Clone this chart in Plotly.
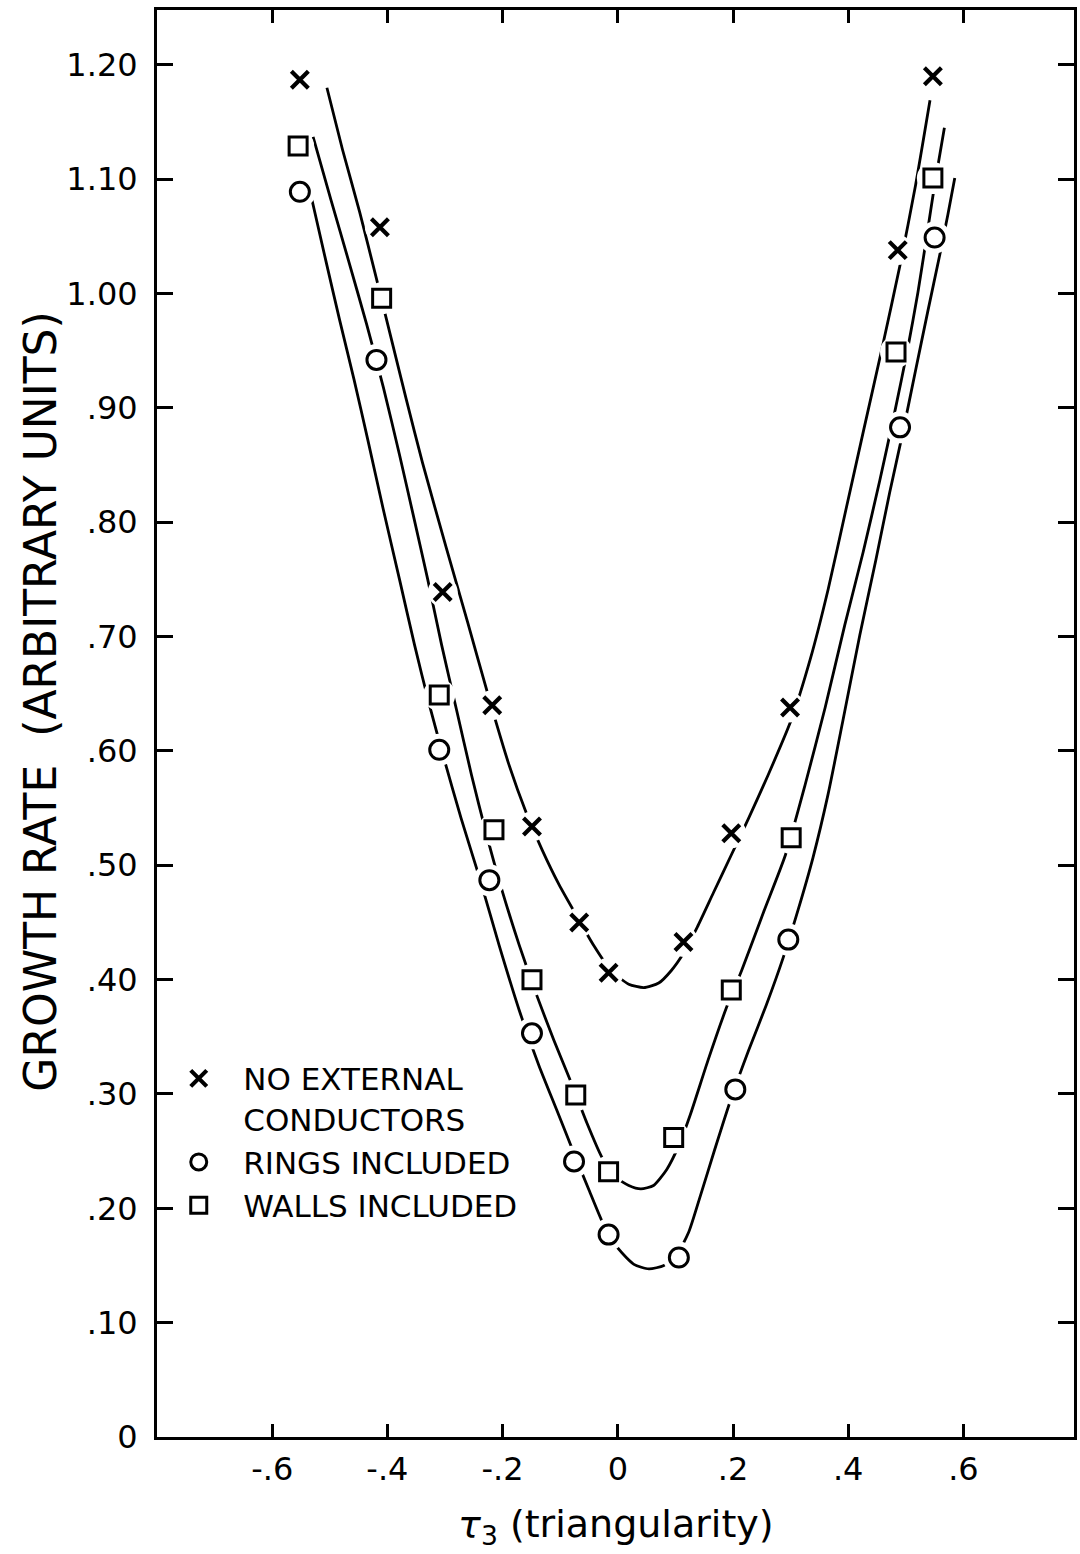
import plotly.graph_objects as go

# ---------------- data ----------------
# measured points
x_none = [-0.552, -0.413, -0.304, -0.218, -0.149, -0.067, -0.016, 0.114, 0.197, 0.299, 0.486, 0.547]
y_none = [1.187, 1.058, 0.739, 0.640, 0.534, 0.450, 0.406, 0.433, 0.528, 0.638, 1.038, 1.190]

x_rings = [-0.552, -0.419, -0.310, -0.223, -0.149, -0.076, -0.016, 0.106, 0.204, 0.296, 0.490, 0.550]
y_rings = [1.089, 0.942, 0.601, 0.487, 0.353, 0.241, 0.177, 0.157, 0.304, 0.435, 0.883, 1.049]

x_walls = [-0.555, -0.410, -0.310, -0.215, -0.149, -0.073, -0.016, 0.097, 0.197, 0.301, 0.483, 0.547]
y_walls = [1.129, 0.996, 0.649, 0.531, 0.400, 0.299, 0.232, 0.262, 0.391, 0.524, 0.949, 1.101]

# hand-drawn fitted curves
cx_none = [-0.505, -0.478, -0.448, -0.420, -0.393, -0.367, -0.339, -0.298, -0.261, -0.223, -0.189,
           -0.159, -0.131, -0.102, -0.073, -0.042, -0.012, 0.019, 0.045, 0.071, 0.093, 0.114,
           0.138, 0.166, 0.197, 0.227, 0.261, 0.301, 0.334, 0.365, 0.396, 0.427, 0.460, 0.490,
           0.517, 0.542]
cy_none = [1.180, 1.126, 1.071, 1.015, 0.960, 0.907, 0.852, 0.778, 0.713, 0.645, 0.588,
           0.546, 0.513, 0.483, 0.457, 0.430, 0.408, 0.396, 0.393, 0.397, 0.408, 0.423,
           0.446, 0.476, 0.509, 0.541, 0.579, 0.627, 0.680, 0.741, 0.811, 0.881, 0.955, 1.025,
           1.095, 1.169]

cx_walls = [-0.529, -0.498, -0.467, -0.436, -0.407, -0.379, -0.355, -0.330, -0.306, -0.280, -0.254,
            -0.228, -0.201, -0.171, -0.142, -0.111, -0.081, -0.054, -0.028, -0.003, 0.019, 0.040,
            0.062, 0.085, 0.106, 0.126, 0.157, 0.189, 0.215, 0.253, 0.291, 0.325, 0.360, 0.394,
            0.426, 0.455, 0.481, 0.503, 0.521, 0.536, 0.550, 0.567]
cy_walls = [1.137, 1.082, 1.028, 0.973, 0.918, 0.859, 0.806, 0.750, 0.693, 0.636, 0.579,
            0.527, 0.478, 0.430, 0.388, 0.347, 0.310, 0.275, 0.245, 0.227, 0.220, 0.217,
            0.220, 0.234, 0.255, 0.282, 0.330, 0.376, 0.408, 0.459, 0.509, 0.570, 0.638, 0.710,
            0.774, 0.837, 0.897, 0.951, 1.001, 1.049, 1.095, 1.145]

cx_rings = [-0.531, -0.507, -0.483, -0.458, -0.434, -0.407, -0.379, -0.353, -0.327, -0.301, -0.272,
            -0.240, -0.206, -0.171, -0.137, -0.106, -0.076, -0.050, -0.024, 0.002, 0.028, 0.054,
            0.080, 0.102, 0.123, 0.144, 0.168, 0.196, 0.227, 0.258, 0.287, 0.313, 0.339, 0.365,
            0.391, 0.420, 0.448, 0.472, 0.495, 0.517, 0.538, 0.559, 0.573, 0.585]
cy_rings = [1.082, 1.029, 0.977, 0.925, 0.872, 0.811, 0.750, 0.693, 0.640, 0.592, 0.541,
            0.489, 0.430, 0.373, 0.325, 0.286, 0.248, 0.216, 0.185, 0.164, 0.151, 0.147,
            0.150, 0.159, 0.179, 0.212, 0.251, 0.295, 0.338, 0.378, 0.419, 0.461, 0.507, 0.562,
            0.627, 0.701, 0.767, 0.826, 0.879, 0.933, 0.984, 1.034, 1.069, 1.101]

legend_names = ["NO EXTERNAL<br>CONDUCTORS", "RINGS INCLUDED", "WALLS INCLUDED"]

x_tickvals = [-0.6, -0.4, -0.2, 0, 0.2, 0.4, 0.6]
x_ticktext = ["-.6", "-.4", "-.2", "0", ".2", ".4", ".6"]
y_tickvals = [0, 0.1, 0.2, 0.3, 0.4, 0.5, 0.6, 0.7, 0.8, 0.9, 1.0, 1.1, 1.2]
y_ticktext = ["0", ".10", ".20", ".30", ".40", ".50", ".60", ".70", ".80", ".90", "1.00", "1.10", "1.20"]

# ---------------- figure ----------------
FONT = "DejaVu Sans"
INK = "black"
fig = go.Figure()

# curves
for cx, cy in [(cx_none, cy_none), (cx_walls, cy_walls), (cx_rings, cy_rings)]:
    fig.add_trace(go.Scatter(x=cx, y=cy, mode="lines",
                             line=dict(color=INK, width=2.8, shape="spline", smoothing=0.6),
                             showlegend=False, hoverinfo="skip"))

# white halos so the pen-drawn curves break around each symbol
for xs, ys, hs in [(x_none, y_none, 30), (x_rings, y_rings, 32), (x_walls, y_walls, 32)]:
    fig.add_trace(go.Scatter(x=xs, y=ys, mode="markers",
                             marker=dict(symbol="circle", size=hs, color="white", line=dict(width=0)),
                             showlegend=False, hoverinfo="skip"))

# symbols
styles = [
    (x_none, y_none, dict(symbol="x-thin-open", size=17, color=INK, line=dict(width=4.2, color=INK))),
    (x_rings, y_rings, dict(symbol="circle-open", size=19, color=INK, line=dict(width=3, color=INK))),
    (x_walls, y_walls, dict(symbol="square-open", size=18, color=INK, line=dict(width=3, color=INK))),
]
for (xs, ys, mk), name in zip(styles, legend_names):
    fig.add_trace(go.Scatter(x=xs, y=ys, mode="markers", marker=mk, name=name, showlegend=True))

axis_common = dict(showgrid=False, zeroline=False, showline=True, linecolor=INK, linewidth=3,
                   mirror="ticks", ticks="inside", tickcolor=INK, tickwidth=3,
                   tickfont=dict(family=FONT, size=32, color=INK))

fig.update_xaxes(range=[-0.8, 0.792], tickmode="array", tickvals=x_tickvals, ticktext=x_ticktext,
                 ticklen=13, ticklabelstandoff=2, **axis_common)
fig.update_yaxes(range=[0, 1.248], tickmode="array", tickvals=y_tickvals, ticktext=y_ticktext,
                 ticklen=16, ticklabelstandoff=10, **axis_common)

fig.add_annotation(text="GROWTH RATE  (ARBITRARY UNITS)", xref="paper", yref="paper",
                   x=-0.127, y=0.515, textangle=-90, showarrow=False,
                   xanchor="center", yanchor="middle",
                   font=dict(family=FONT, size=44, color=INK))
fig.add_annotation(text="<i>τ</i><sub>3</sub> (triangularity)", xref="paper", yref="paper",
                   x=0.5, y=-0.063, showarrow=False, xanchor="center", yanchor="middle",
                   font=dict(family=FONT, size=38, color=INK))

fig.update_layout(
    width=1080, height=1554,
    margin=dict(l=157, r=3, t=10, b=117),
    plot_bgcolor="white", paper_bgcolor="white",
    legend=dict(x=-0.003, y=0.27, xanchor="left", yanchor="top", bgcolor="rgba(0,0,0,0)",
                font=dict(family=FONT, size=31, color=INK), valign="top",
                itemsizing="trace", tracegroupgap=4, itemwidth=79),
)

fig.write_html("out.html")
